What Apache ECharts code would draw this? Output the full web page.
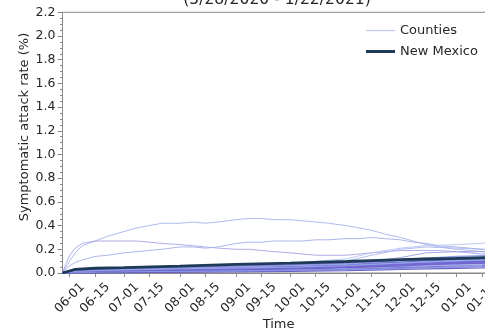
<!DOCTYPE html>
<html><head><meta charset="utf-8">
<script src="https://cdn.jsdelivr.net/npm/echarts@6/dist/echarts.min.js"></script>
<style>html,body{margin:0;padding:0;background:#fff}#c{width:485px;height:333px}</style>
</head><body><div id="c"></div>
<script>
// x-axis tick labels
const tickLabels = ['06-01','06-15','07-01','07-15','08-01','08-15','09-01','09-15','10-01','10-15','11-01','11-15','12-01','12-15','01-01','01-15'];
const yTicks = [0.0,0.2,0.4,0.6,0.8,1.0,1.2,1.4,1.6,1.8,2.0,2.2];
const titleText = '(5/28/2020 - 1/22/2021)';

// fine sample dates for highlighted counties
const sampleFine = ['05-28','05-30','06-01','06-04','06-08','06-15','06-22','07-01','07-08','07-15','07-22','08-01','08-08','08-15','08-22','09-01','09-08','09-15','09-22','10-01','10-08','10-15','10-22','11-01','11-08','11-15','11-22','12-01','12-08','12-15','12-22','01-01','01-08','01-15','01-22'];
const countyA = [0,0.05,0.10,0.17,0.23,0.27,0.31,0.35,0.38,0.40,0.42,0.42,0.43,0.42,0.43,0.45,0.46,0.46,0.45,0.45,0.44,0.43,0.42,0.40,0.38,0.36,0.33,0.30,0.27,0.24,0.22,0.20,0.19,0.18,0.17];
const countyB = [0,0.08,0.15,0.21,0.25,0.27,0.27,0.27,0.27,0.26,0.25,0.24,0.23,0.22,0.21,0.20,0.20,0.19,0.18,0.17,0.16,0.15,0.15,0.15,0.16,0.17,0.18,0.19,0.19,0.19,0.19,0.18,0.17,0.16,0.16];
const countyC = [0,0.03,0.06,0.09,0.11,0.14,0.15,0.17,0.18,0.19,0.20,0.22,0.22,0.21,0.22,0.25,0.26,0.26,0.27,0.27,0.27,0.28,0.28,0.29,0.29,0.30,0.29,0.28,0.26,0.25,0.23,0.22,0.21,0.20,0.19];

// coarse sample dates for other counties and state
const sampleCoarse = ['05-28','06-04','06-15','07-01','08-01','09-01','10-01','11-01','11-15','12-01','12-15','01-01','01-15','01-22'];
const countyD = [0,0.01,0.02,0.03,0.05,0.06,0.08,0.12,0.17,0.21,0.23,0.24,0.25,0.27];
const countyE = [0,0.01,0.015,0.02,0.035,0.05,0.07,0.10,0.15,0.20,0.22,0.21,0.20,0.20];
const countyF = [0,0.005,0.01,0.02,0.03,0.045,0.06,0.08,0.10,0.13,0.17,0.18,0.18,0.18];
const newMexico = [0,0.03,0.04,0.045,0.058,0.072,0.083,0.097,0.105,0.113,0.118,0.123,0.128,0.13];
const cluster = [
 [0,0.01,0.015,0.02,0.025,0.03,0.035,0.045,0.05,0.06,0.068,0.075,0.082,0.085],
 [0,0.005,0.01,0.012,0.015,0.02,0.025,0.03,0.035,0.04,0.045,0.05,0.053,0.055],
 [0,0.02,0.025,0.03,0.035,0.04,0.05,0.065,0.078,0.09,0.1,0.11,0.117,0.12],
 [0,0.015,0.02,0.025,0.03,0.04,0.055,0.075,0.088,0.1,0.115,0.13,0.137,0.14],
 [0,0.008,0.012,0.018,0.025,0.035,0.045,0.06,0.07,0.08,0.09,0.1,0.103,0.105],
 [0,0.003,0.006,0.01,0.014,0.02,0.028,0.04,0.047,0.055,0.062,0.07,0.073,0.075],
 [0,0.025,0.035,0.04,0.045,0.05,0.055,0.06,0.068,0.075,0.085,0.095,0.098,0.1],
 [0,0.01,0.02,0.03,0.04,0.05,0.06,0.08,0.095,0.11,0.125,0.14,0.147,0.15],
 [0,0.002,0.004,0.006,0.01,0.015,0.02,0.03,0.037,0.045,0.052,0.06,0.063,0.065],
 [0,0.012,0.018,0.022,0.028,0.033,0.04,0.05,0.057,0.065,0.075,0.085,0.088,0.09],
 [0,0.006,0.01,0.015,0.02,0.03,0.04,0.055,0.065,0.075,0.085,0.095,0.098,0.1],
 [0,0.03,0.04,0.045,0.05,0.055,0.06,0.07,0.078,0.085,0.093,0.1,0.107,0.11],
 [0,0.004,0.008,0.012,0.018,0.025,0.035,0.05,0.06,0.07,0.08,0.09,0.093,0.095],
 [0,0.015,0.025,0.035,0.045,0.055,0.065,0.08,0.09,0.1,0.11,0.12,0.123,0.125],
 [0,0.001,0.002,0.004,0.007,0.01,0.014,0.02,0.025,0.03,0.035,0.04,0.043,0.045],
 [0,0.018,0.024,0.03,0.035,0.045,0.05,0.06,0.07,0.08,0.09,0.1,0.107,0.11],
 [0,0.007,0.011,0.016,0.022,0.028,0.035,0.045,0.052,0.06,0.07,0.08,0.083,0.085],
 [0,0.02,0.03,0.04,0.05,0.06,0.07,0.085,0.095,0.105,0.115,0.125,0.128,0.13],
 [0,0.009,0.014,0.02,0.03,0.04,0.05,0.065,0.078,0.09,0.102,0.115,0.118,0.12],
 [0,0.004,0.007,0.01,0.013,0.017,0.022,0.028,0.033,0.038,0.044,0.05,0.053,0.055],
 [0,0.011,0.016,0.02,0.025,0.032,0.04,0.055,0.062,0.07,0.08,0.09,0.093,0.095],
 [0,0.013,0.02,0.027,0.034,0.042,0.05,0.063,0.074,0.085,0.095,0.105,0.112,0.115]
];

// daily categories 2020-05-28 .. 2021-01-22
const dates = [];
for (let i = 0; i < 240; i++) {
  const d = new Date(Date.UTC(2020, 4, 28 + i));
  dates.push(String(d.getUTCMonth() + 1).padStart(2, '0') + '-' + String(d.getUTCDate()).padStart(2, '0'));
}

const pairs = (xs, ys) => xs.map((x, i) => [x, ys[i]]);
const clusterColors = ['#6a5fcc','#8678d8','#5a50c0','#8b9ee6','#7468d2','#9aaaea','#5548b8','#7f8fe0'];

const series = [];
const addCounty = (data, color, op, w) => series.push({
  name: 'Counties', type: 'line', data, symbol: 'none', showSymbol: false, silent: true,
  lineStyle: { color, width: w || 1, opacity: op }, itemStyle: { color }
});
addCounty(pairs(sampleFine, countyA), '#a9b3ec', 0.9);
addCounty(pairs(sampleFine, countyB), '#a9a4e6', 0.9);
addCounty(pairs(sampleFine, countyC), '#a3aee8', 0.9);
addCounty(pairs(sampleCoarse, countyD), '#b5c5f2', 0.9);
addCounty(pairs(sampleCoarse, countyE), '#a8b6ee', 0.9);
addCounty(pairs(sampleCoarse, countyF), '#9c9ce2', 0.9);
cluster.forEach((c, i) => addCounty(pairs(sampleCoarse, c), clusterColors[i % clusterColors.length], 0.85, 1.3));
series.push({
  name: 'New Mexico', type: 'line', data: pairs(sampleCoarse, newMexico), symbol: 'none', showSymbol: false, silent: true, z: 5,
  lineStyle: { color: '#1d3a58', width: 2.8 }, itemStyle: { color: '#1d3a58' }
});

const FONT = 'DejaVu Sans';
const chart = echarts.init(document.getElementById('c'), null, { renderer: 'canvas' });
chart.setOption({
  animation: false,
  backgroundColor: '#fff',
  textStyle: { fontFamily: FONT },
  grid: { left: 62.5, top: 12.3, bottom: 60, right: -9.6, outerBoundsMode: 'none', containLabel: false,
          show: true, borderColor: '#8a8a8a', borderWidth: 1 },
  legend: {
    show: true, orient: 'vertical', left: 361, top: 19, itemWidth: 29, itemHeight: 14, itemGap: 8,
    symbolKeepAspect: true,
    textStyle: { fontFamily: FONT, fontSize: 13, color: '#262626' },
    data: [
      { name: 'Counties', icon: 'path://M0,0H29V1.2H0Z', itemStyle: { color: '#c3c7ec' } },
      { name: 'New Mexico', icon: 'path://M0,0H29V3H0Z', itemStyle: { color: '#1d3a58' } }
    ]
  },
  xAxis: {
    type: 'category', data: dates, boundaryGap: false,
    name: 'Time', nameLocation: 'middle', nameGap: 45, nameMoveOverlap: false,
    nameTextStyle: { fontFamily: FONT, fontSize: 13, color: '#262626' },
    axisLine: { lineStyle: { color: '#8a8a8a' } },
    axisTick: { interval: (i, v) => tickLabels.includes(v), length: 4, lineStyle: { color: '#8a8a8a' } },
    axisLabel: {
      interval: (i, v) => tickLabels.includes(v), rotate: 45, align: 'center', verticalAlign: 'middle',
      margin: 25, fontFamily: FONT, fontSize: 12.5, color: '#262626'
    },
    splitLine: { show: false }
  },
  yAxis: {
    type: 'value', min: yTicks[0], max: yTicks[yTicks.length - 1], interval: 0.2,
    axisLine: { show: true, lineStyle: { color: '#8a8a8a' } },
    axisTick: { show: true, length: 5, lineStyle: { color: '#8a8a8a' } },
    minorTick: { show: true, splitNumber: 4, length: 2.5, lineStyle: { color: '#8a8a8a' } },
    axisLabel: { formatter: v => v.toFixed(1), margin: 7, fontFamily: FONT, fontSize: 12.5, color: '#262626' },
    splitLine: { show: false }
  },
  graphic: [
    { type: 'text', x: 277, y: -0.5, silent: true,
      style: { text: titleText, fontFamily: FONT, fontSize: 15.6, fill: '#262626', align: 'center', verticalAlign: 'middle' } },
    { type: 'text', x: 25, y: 127, rotation: Math.PI / 2, silent: true,
      style: { text: 'Symptomatic attack rate (%)', fontFamily: FONT, fontSize: 13, fill: '#262626', align: 'center', verticalAlign: 'middle' } }
  ],
  series
});
</script></body></html>
